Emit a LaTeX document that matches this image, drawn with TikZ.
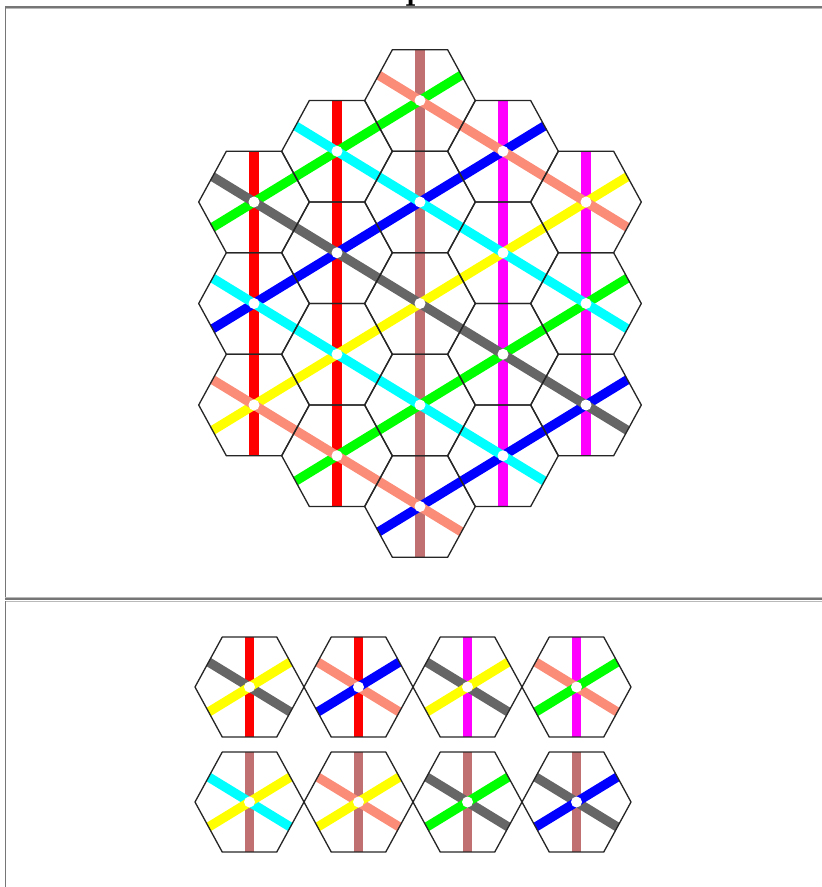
\documentclass[tikz,border=0pt]{standalone}
\usepackage{xcolor}
\usepackage{tikz}
\definecolor{redline}{RGB}{255,0,0}
\definecolor{magline}{RGB}{255,0,255}
\definecolor{brownline}{RGB}{192,112,112}
\definecolor{greenline}{RGB}{0,255,0}
\definecolor{blueline}{RGB}{0,0,255}
\definecolor{yellowline}{RGB}{255,255,0}
\definecolor{salmonline}{RGB}{250,140,120}
\definecolor{cyanline}{RGB}{0,255,255}
\definecolor{grayline}{RGB}{102,102,102}
\definecolor{framedark}{RGB}{118,118,118}
\definecolor{framelight}{RGB}{185,185,185}

% one hexagon outline: centre x, centre y, half width, half height
\newcommand{\hexcell}[4]{%
  \draw[hexedge] ({#1-#3},#2) -- ({#1-#3/2},{#2-#4}) -- ({#1+#3/2},{#2-#4})
    -- ({#1+#3},#2) -- ({#1+#3/2},{#2+#4}) -- ({#1-#3/2},{#2+#4}) -- cycle;}

% one loose tile: centre x, centre y, vertical, falling and rising colours
\newcommand{\tile}[5]{%
  \draw[bar,#3] (#1,{#2-50}) -- (#1,{#2+50});
  \draw[bar,#4] ({#1-40.9},{#2-25}) -- ({#1+40.9},{#2+25});
  \draw[bar,#5] ({#1-40.9},{#2+25}) -- ({#1+40.9},{#2-25});
  \hexcell{#1}{#2}{54.5}{50}
  \fill[hub] (#1,#2) circle[radius=0.11cm];}

\begin{document}
\begin{tikzpicture}[x=0.02cm,y=-0.02cm,
  bar/.style={line width=5.3pt},
  hexedge/.style={draw=black!85,line width=0.75pt,line join=round},
  hub/.style={fill=white}]
\useasboundingbox (0,0) rectangle (822,887);

% title, cut off at the top
\begin{scope}
\clip (0,0) rectangle (822,6.5);
\node[font=\bfseries\fontsize{20}{24}\selectfont,anchor=base,inner sep=0pt] (title) at (416,-1) {p};
\end{scope}

% table frame
\draw[framedark,line width=0.6pt] (5,7) -- (822,7);
\draw[framelight,line width=0.6pt] (6,8.4) -- (822,8.4);
\draw[framedark,line width=0.7pt] (5.5,7) -- (5.5,597);
\draw[framelight,line width=0.6pt] (5,597.4) -- (822,597.4);
\draw[framedark,line width=1.1pt] (5,599.3) -- (822,599.3);
\draw[framelight,line width=0.6pt] (5,601.4) -- (822,601.4);
\draw[framedark,line width=0.7pt] (5.5,601) -- (5.5,887);

% vertical bars of the big board
\draw[bar,redline] (254,151.25) -- (254,455.75);
\draw[bar,redline] (337,100.5) -- (337,506.5);
\draw[bar,brownline] (420,49.75) -- (420,557.25);
\draw[bar,magline] (503,100.5) -- (503,506.5);
\draw[bar,magline] (586,151.25) -- (586,455.75);

% rising bars
\draw[bar,greenline] (212.5,227.4) -- (461.5,75.1);
\draw[bar,blueline] (212.5,328.9) -- (544.5,125.9);
\draw[bar,yellowline] (212.5,430.4) -- (627.5,176.6);
\draw[bar,greenline] (295.5,481.1) -- (627.5,278.1);
\draw[bar,blueline] (378.5,531.9) -- (627.5,379.6);

% falling bars
\draw[bar,salmonline] (378.5,75.1) -- (627.5,227.4);
\draw[bar,cyanline] (295.5,125.9) -- (627.5,328.9);
\draw[bar,grayline] (212.5,176.6) -- (627.5,430.4);
\draw[bar,cyanline] (212.5,278.1) -- (544.5,481.1);
\draw[bar,salmonline] (212.5,379.6) -- (461.5,531.9);

% cells and hubs of the big board
\foreach \q in {-2,...,2}{
  \foreach \r in {-2,...,2}{
    \pgfmathtruncatemacro\s{abs(\q+\r)}
    \ifnum\s<3
      \pgfmathsetmacro\cx{420+83*\q}
      \pgfmathsetmacro\cy{303.5+101.5*\r+50.75*\q}
      \hexcell{\cx}{\cy}{55.3}{50.75}
      \fill[hub] (\cx,\cy) circle[radius=0.11cm];
    \fi
  }
}

% loose tiles
\tile{249.5}{687}{redline}{grayline}{yellowline}
\tile{358.5}{687}{redline}{salmonline}{blueline}
\tile{467.5}{687}{magline}{grayline}{yellowline}
\tile{576.5}{687}{magline}{salmonline}{greenline}
\tile{249.5}{802}{brownline}{cyanline}{yellowline}
\tile{358.5}{802}{brownline}{salmonline}{yellowline}
\tile{467.5}{802}{brownline}{grayline}{greenline}
\tile{576.5}{802}{brownline}{grayline}{blueline}
\end{tikzpicture}
\end{document}
